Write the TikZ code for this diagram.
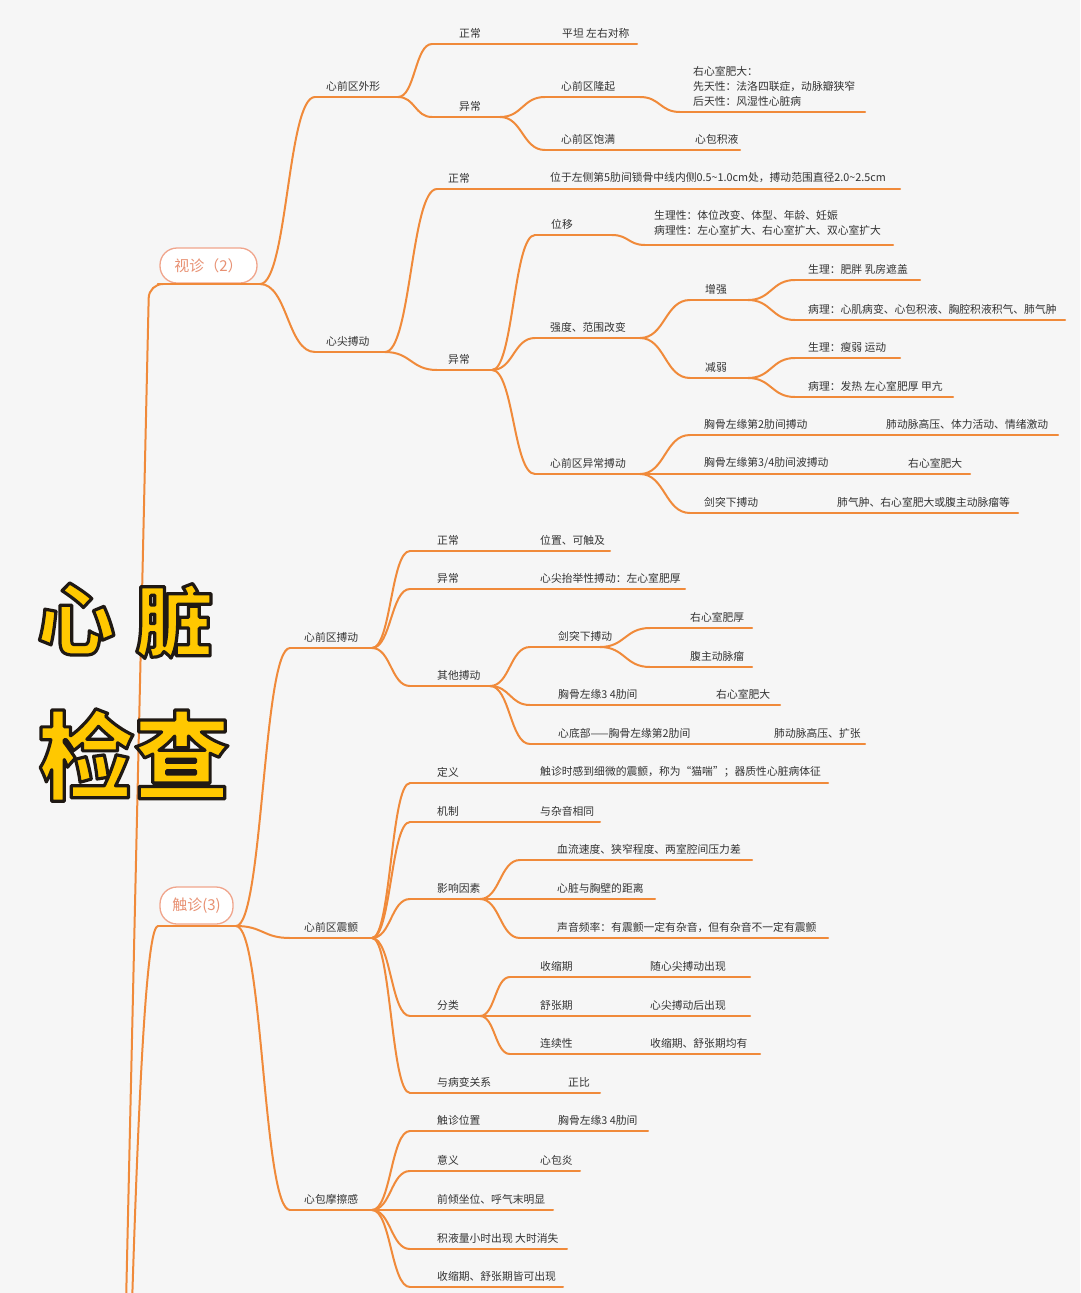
\documentclass[tikz,border=0pt]{standalone}
\usepackage{fontspec}
\setmainfont{Noto Sans CJK SC}
\usetikzlibrary{calc}
\definecolor{bgc}{RGB}{246,246,246}
\definecolor{brc}{RGB}{240,138,58}
\definecolor{txc}{RGB}{51,51,51}
\definecolor{boxc}{RGB}{240,165,140}
\definecolor{boxt}{RGB}{232,145,115}
\definecolor{ttl}{RGB}{255,200,0}
\tikzset{
 br/.style={draw=brc, line width=2pt, line cap=round},
 lbl/.style={anchor=west, inner sep=0pt, text=txc, font=\fontsize{10.8}{15}\selectfont},
 tbox/.style={draw=boxc, fill=white, line width=1.3pt, rounded corners=17pt, minimum height=35pt, inner sep=0pt, text=boxt, font=\fontsize{15}{15}\selectfont},
 ttlf/.style={inner sep=0pt, font=\fontsize{#1}{#1}\selectfont\bfseries}
}
% topic: name, text left x, line y, line start, line end, text
\newcommand\tp[6]{%
  \node[lbl] (#1) at (#2,#3-11) {#6};
  \coordinate (#1-s) at (#4,#3);
  \coordinate (#1-e) at (#5,#3);
  \draw[br] (#1-s) -- (#1-e);}
% leaf text on a parent line
\newcommand\lf[4]{\node[lbl] (#1) at (#2,#3-11) {#4};}
% connector
\newcommand\cn[2]{\draw[br] let \p1=(#1-e), \p2=(#2-s) in (\p1) .. controls (\x1/2+\x2/2,\y1) and (\x1/2+\x2/2,\y2) .. (\p2);}
% outlined title text (fill + stroke render mode)
\newcommand\outl[1]{\special{pdf:literal direct 2 Tr 3.2 w 0.12 0.1 0.08 RG 1 j}#1\special{pdf:literal direct 0 Tr}}
\newcommand\bigt[5]{\node[ttlf={#4}, text=ttl] (#1) at (#2,#3) {\outl{#5}};}
\begin{document}
\begin{tikzpicture}[x=1pt,y=-1pt]
\fill[bgc] (0,0) rectangle (1080,1293);
\useasboundingbox (0,0) rectangle (1080,1293);

% ---------- 视诊 ----------
\node[tbox, minimum width=97pt] (sz) at (208.5,265.5) {视诊（2）};
\coordinate (sz-s) at (158,284);
\coordinate (sz-e) at (260,284);
\draw[br] (sz-s) -- (sz-e);
\coordinate (r1) at (126,1305);
\draw[br, rounded corners=14pt] (r1) -- (149,284) -- (sz-s);

\tp{wx}{326}{97}{315}{398}{心前区外形}
\tp{xj}{326}{352}{315}{385}{心尖搏动}
\cn{sz}{wx}\cn{sz}{xj}

\tp{wxzc}{459}{44}{432}{637}{正常}
\lf{wxzcL}{562}{44}{平坦 左右对称}
\tp{wxyc}{459}{117}{432}{500}{异常}
\cn{wx}{wxzc}\cn{wx}{wxyc}

\tp{lq}{561}{97}{545}{640}{心前区隆起}
\coordinate (lqL-s) at (680,112);
\coordinate (lqL-e) at (865,112);
\draw[br] (lqL-s) -- (lqL-e);
\node[lbl, align=left] (lqL) at (693,86) {右心室肥大：\\先天性：法洛四联症，动脉瓣狭窄\\后天性：风湿性心脏病};
\tp{bm}{561}{150}{545}{740}{心前区饱满}
\lf{bmL}{695}{150}{心包积液}
\cn{wxyc}{lq}\cn{lq}{lqL}\cn{wxyc}{bm}

\tp{xjzc}{448}{189}{437}{900}{正常}
\lf{xjzcL}{550}{189}{位于左侧第5肋间锁骨中线内侧0.5\textasciitilde1.0cm处，搏动范围直径2.0\textasciitilde2.5cm}
\tp{xjyc}{448}{370}{437}{492}{异常}
\cn{xj}{xjzc}\cn{xj}{xjyc}

\tp{wy}{551}{235}{535}{612}{位移}
\coordinate (wyL-s) at (645,245);
\coordinate (wyL-e) at (893,245);
\draw[br] (wyL-s) -- (wyL-e);
\node[lbl, align=left] (wyL) at (654,222.5) {生理性：体位改变、体型、年龄、妊娠\\病理性：左心室扩大、右心室扩大、双心室扩大};
\tp{qd}{550}{338}{535}{640}{强度、范围改变}
\tp{yb}{550}{474}{535}{640}{心前区异常搏动}
\cn{xjyc}{wy}\cn{wy}{wyL}\cn{xjyc}{qd}\cn{xjyc}{yb}

\tp{zq}{705}{300}{690}{748}{增强}
\tp{jr}{705}{378}{690}{748}{减弱}
\cn{qd}{zq}\cn{qd}{jr}
\tp{zq1}{808}{280}{795}{920}{生理：肥胖 乳房遮盖}
\tp{zq2}{808}{320}{795}{1065}{病理：心肌病变、心包积液、胸腔积液积气、肺气肿}
\cn{zq}{zq1}\cn{zq}{zq2}
\tp{jr1}{808}{358}{795}{900}{生理：瘦弱 运动}
\tp{jr2}{808}{397}{795}{953}{病理：发热 左心室肥厚 甲亢}
\cn{jr}{jr1}\cn{jr}{jr2}

\tp{yb1}{704}{435}{690}{1058}{胸骨左缘第2肋间搏动}
\lf{yb1L}{886}{435}{肺动脉高压、体力活动、情绪激动}
\tp{yb2}{704}{474}{690}{970}{胸骨左缘第3/4肋间波搏动}
\lf{yb2L}{908}{474}{右心室肥大}
\tp{yb3}{704}{513}{690}{1018}{剑突下搏动}
\lf{yb3L}{837}{513}{肺气肿、右心室肥大或腹主动脉瘤等}
\cn{yb}{yb1}\cn{yb}{yb2}\cn{yb}{yb3}

% ---------- 触诊 ----------
\node[tbox, minimum width=73pt, minimum height=37pt] (tz) at (196.5,905.5) {触诊(3)};
\coordinate (tz-s) at (158,926);
\coordinate (tz-e) at (236,926);
\draw[br] (tz-s) -- (tz-e);
\coordinate (r2) at (132,1305);
\draw[br] (r2) .. controls (140,1050) and (148,926) .. (tz-s);

\tp{bd}{304}{648}{290}{372}{心前区搏动}
\tp{zc}{304}{938}{290}{372}{心前区震颤}
\tp{mc}{304}{1210}{290}{372}{心包摩擦感}
\cn{tz}{bd}\cn{tz}{zc}\cn{tz}{mc}

\tp{bdzc}{437}{551}{410}{610}{正常}
\lf{bdzcL}{540}{551}{位置、可触及}
\tp{bdyc}{437}{589}{410}{685}{异常}
\lf{bdycL}{540}{589}{心尖抬举性搏动：左心室肥厚}
\tp{qt}{437}{686}{410}{490}{其他搏动}
\cn{bd}{bdzc}\cn{bd}{bdyc}\cn{bd}{qt}
\tp{jt}{558}{647}{530}{600}{剑突下搏动}
\tp{jt1}{690}{628}{650}{752}{右心室肥厚}
\tp{jt2}{690}{667}{650}{752}{腹主动脉瘤}
\cn{jt}{jt1}\cn{jt}{jt2}
\tp{qt2}{558}{705}{530}{780}{胸骨左缘3 4肋间}
\lf{qt2L}{716}{705}{右心室肥大}
\tp{qt3}{558}{744}{530}{865}{心底部——胸骨左缘第2肋间}
\lf{qt3L}{774}{744}{肺动脉高压、扩张}
\cn{qt}{jt}\cn{qt}{qt2}\cn{qt}{qt3}

\tp{dy}{437}{783}{410}{828}{定义}
\lf{dyL}{540}{783}{触诊时感到细微的震颤，称为“猫喘”；器质性心脏病体征}
\tp{jz}{437}{822}{410}{600}{机制}
\lf{jzL}{540}{822}{与杂音相同}
\tp{yx}{437}{899}{410}{480}{影响因素}
\tp{fl}{437}{1016}{410}{480}{分类}
\tp{gx}{437}{1093}{410}{600}{与病变关系}
\lf{gxL}{568}{1093}{正比}
\cn{zc}{dy}\cn{zc}{jz}\cn{zc}{yx}\cn{zc}{fl}\cn{zc}{gx}
\tp{yx1}{557}{860}{520}{752}{血流速度、狭窄程度、两室腔间压力差}
\tp{yx2}{557}{899}{520}{655}{心脏与胸壁的距离}
\tp{yx3}{557}{938}{520}{828}{声音频率：有震颤一定有杂音，但有杂音不一定有震颤}
\cn{yx}{yx1}\cn{yx}{yx2}\cn{yx}{yx3}
\tp{fl1}{540}{977}{510}{750}{收缩期}
\lf{fl1L}{650}{977}{随心尖搏动出现}
\tp{fl2}{540}{1016}{510}{750}{舒张期}
\lf{fl2L}{650}{1016}{心尖搏动后出现}
\tp{fl3}{540}{1054}{510}{760}{连续性}
\lf{fl3L}{650}{1054}{收缩期、舒张期均有}
\cn{fl}{fl1}\cn{fl}{fl2}\cn{fl}{fl3}

\tp{mc1}{437}{1131}{410}{648}{触诊位置}
\lf{mc1L}{558}{1131}{胸骨左缘3 4肋间}
\tp{mc2}{437}{1171}{410}{580}{意义}
\lf{mc2L}{540}{1171}{心包炎}
\tp{mc3}{437}{1210}{410}{553}{前倾坐位、呼气末明显}
\tp{mc4}{437}{1249}{410}{567}{积液量小时出现 大时消失}
\tp{mc5}{437}{1287}{410}{563}{收缩期、舒张期皆可出现}
\cn{mc}{mc1}\cn{mc}{mc2}\cn{mc}{mc3}\cn{mc}{mc4}\cn{mc}{mc5}

% ---------- title ----------
\bigt{t1}{76}{619}{78}{心}
\bigt{t2}{174}{621}{78}{脏}
\bigt{t3}{134}{755}{96}{检查}
\end{tikzpicture}
\end{document}
